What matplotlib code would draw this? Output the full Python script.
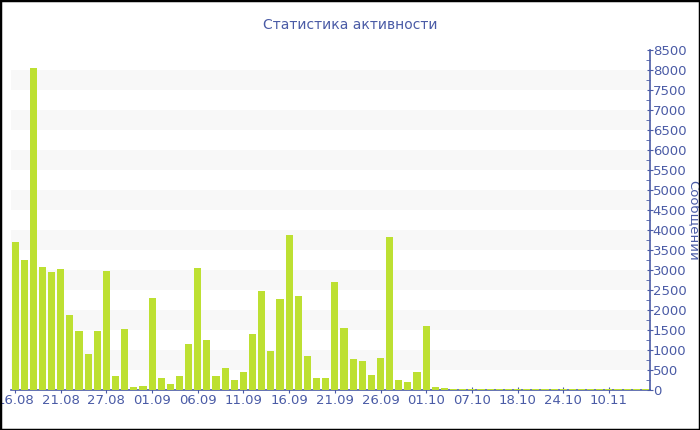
import numpy as np
import matplotlib
matplotlib.use("Agg")
import matplotlib.pyplot as plt
from matplotlib.patches import Rectangle
from matplotlib.ticker import MultipleLocator

# messages per day (one bar per day that has data)
values = [3710, 3250, 8040, 3070, 2960, 3020, 1880, 1480, 900, 1480,
          2980, 350, 1530, 70, 90, 2290, 310, 150, 340, 1140,
          3060, 1260, 360, 540, 250, 460, 1400, 2480, 980, 2280,
          3880, 2340, 860, 290, 290, 2700, 1560, 770, 730, 370,
          790, 3820, 260, 200, 450, 1610, 70, 50, 30, 25,
          25, 20, 20, 25, 20, 25, 20, 25, 30, 30,
          35, 30, 30, 30, 25, 20, 25, 20, 20, 20]
tick_labels = ["16.08", "21.08", "27.08", "01.09", "06.09", "11.09", "16.09",
               "21.09", "26.09", "01.10", "07.10", "18.10", "24.10", "10.11"]
label_step = 5

blue = "#4a5ba6"
bar_color = "#bde032"

fig = plt.figure(figsize=(7, 4.3), dpi=100)
ax = fig.add_axes([0.015, 0.093, 0.9136, 0.7907])

x = np.arange(len(values))
ax.bar(x, values, width=0.78, color=bar_color, zorder=3)

# alternating light bands
for k in range(8):
    ax.axhspan(500 + 1000 * k, 1000 + 1000 * k, color="#f8f8f8", zorder=0, lw=0)

ax.set_xlim(-0.5, len(values) - 0.5)
ax.set_ylim(0, 8500)

ax.set_xticks(np.arange(0, len(tick_labels) * label_step, label_step))
ax.set_xticklabels(tick_labels)

ax.yaxis.tick_right()
ax.yaxis.set_label_position("right")
ax.yaxis.set_major_locator(MultipleLocator(500))
ax.yaxis.set_minor_locator(MultipleLocator(250))
ax.set_ylabel("Сообщений", color=blue, fontsize=9.5, rotation=270, va="center")
ax.yaxis.set_label_coords(1.068, 0.5)

for s in ["top", "left"]:
    ax.spines[s].set_visible(False)
for s in ["bottom", "right"]:
    ax.spines[s].set_color(blue)
    ax.spines[s].set_linewidth(1.2)

ax.tick_params(axis="y", which="major", colors=blue, labelsize=9.5, length=4,
               direction="inout", pad=0)
ax.tick_params(axis="y", which="minor", colors=blue, length=3, direction="in")
ax.tick_params(axis="x", colors=blue, labelsize=9.5, length=4, direction="inout", pad=1)

fig.text(0.5, 1 - 25 / 430, "Статистика активности", color=blue, fontsize=10,
         ha="center", va="center")

fig.patches.append(Rectangle((0, 0), 1, 1, transform=fig.transFigure, fill=False,
                             edgecolor="black", linewidth=2.5))

plt.savefig("out.png", dpi=100)
